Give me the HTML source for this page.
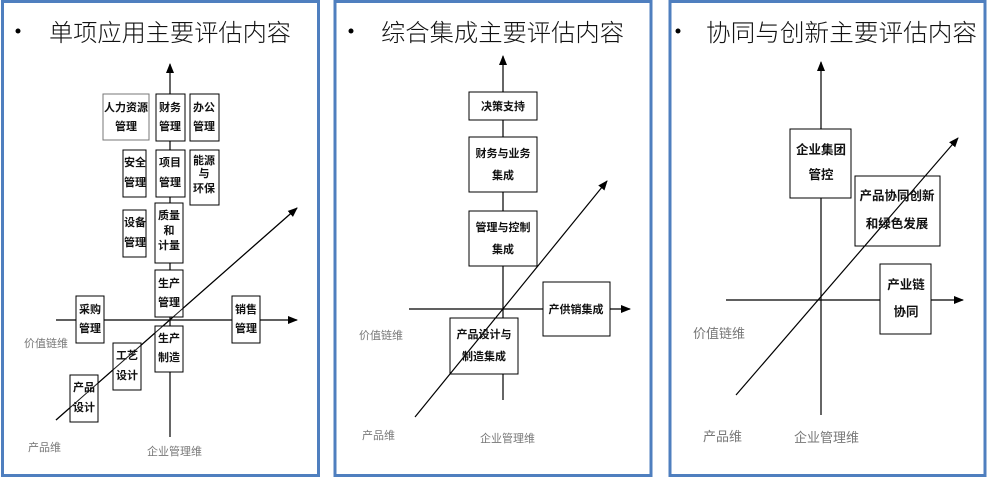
<!DOCTYPE html>
<html><head><meta charset="utf-8">
<style>
html,body{margin:0;padding:0;background:#fff;}
svg{display:block;}
.t{font-family:"Liberation Sans","Noto Sans CJK SC",sans-serif;font-size:24px;font-weight:300;fill:#111;}
.b{font-family:"Liberation Sans","Noto Sans CJK SC",sans-serif;font-size:11px;font-weight:bold;fill:#111;text-anchor:middle;}
.b2{font-family:"Liberation Sans","Noto Sans CJK SC",sans-serif;font-size:12.5px;font-weight:bold;fill:#111;text-anchor:middle;}
.g{font-family:"Liberation Sans","Noto Sans CJK SC",sans-serif;font-size:11px;fill:#777;}
.g2{font-family:"Liberation Sans","Noto Sans CJK SC",sans-serif;font-size:13px;fill:#777;}
</style></head><body>
<svg width="989" height="480" viewBox="0 0 989 480" xmlns="http://www.w3.org/2000/svg">
<defs>
<marker id="a" markerWidth="10" markerHeight="10" refX="9" refY="5" orient="auto" markerUnits="userSpaceOnUse">
<path d="M0,1 L10,5 L0,9 Z" fill="#000"/></marker>
</defs>
<g fill="none" stroke="#4f7fbf" stroke-width="3">
<rect x="2.5" y="1.5" width="316" height="474"/>
<rect x="335" y="1.5" width="316" height="474"/>
<rect x="670" y="1.5" width="315" height="474"/>
</g>
<!-- titles -->
<circle cx="18" cy="31" r="2.5" fill="#000"/>
<text class="t" x="49" y="41" textLength="242" lengthAdjust="spacingAndGlyphs">单项应用主要评估内容</text>
<circle cx="351" cy="31" r="2.5" fill="#000"/>
<text class="t" x="381" y="41" textLength="243" lengthAdjust="spacingAndGlyphs">综合集成主要评估内容</text>
<circle cx="678" cy="31" r="2.5" fill="#000"/>
<text class="t" x="706" y="41" textLength="271" lengthAdjust="spacingAndGlyphs">协同与创新主要评估内容</text>

<!-- panel 1 -->
<g stroke="#000" stroke-width="1.2" fill="none">
<line x1="170" y1="437" x2="170" y2="64" marker-end="url(#a)"/>
<line x1="56" y1="320" x2="297" y2="320" marker-end="url(#a)"/>
<line x1="56" y1="420" x2="297" y2="208" marker-end="url(#a)"/>
</g>
<g fill="#fff" stroke="#000" stroke-width="1">
<rect x="103" y="94" width="46" height="46" stroke="#777"/>
<rect x="156" y="94" width="29" height="47"/>
<rect x="190" y="94" width="29" height="47"/>
<rect x="123" y="150" width="23" height="47"/>
<rect x="156" y="150" width="29" height="47"/>
<rect x="190" y="150" width="29" height="55"/>
<rect x="123" y="210" width="23" height="47"/>
<rect x="155" y="203" width="28" height="60"/>
<rect x="155" y="270" width="28" height="47"/>
<rect x="76" y="296" width="28" height="47"/>
<rect x="232" y="296" width="28" height="47"/>
<rect x="155" y="326" width="28" height="46"/>
<rect x="113" y="343" width="28" height="47"/>
<rect x="70" y="375" width="28" height="47"/>
</g>
<line x1="56" y1="420" x2="297" y2="208" stroke="#000" stroke-width="1" opacity="0.9"/>
<g class="b">
<text class="b" x="126" y="111">人力资源</text><text class="b" x="126" y="130">管理</text>
<text class="b" x="170" y="111">财务</text><text class="b" x="170" y="130">管理</text>
<text class="b" x="204" y="111">办公</text><text class="b" x="204" y="130">管理</text>
<text class="b" x="135" y="166">安全</text><text class="b" x="135" y="186">管理</text>
<text class="b" x="170" y="166">项目</text><text class="b" x="170" y="186">管理</text>
<text class="b" x="204" y="164">能源</text><text class="b" x="204" y="177">与</text><text class="b" x="204" y="192">环保</text>
<text class="b" x="135" y="226">设备</text><text class="b" x="135" y="246">管理</text>
<text class="b" x="169" y="219">质量</text><text class="b" x="169" y="234">和</text><text class="b" x="169" y="249">计量</text>
<text class="b" x="169" y="287">生产</text><text class="b" x="169" y="306">管理</text>
<text class="b" x="90" y="313">采购</text><text class="b" x="90" y="332">管理</text>
<text class="b" x="246" y="313">销售</text><text class="b" x="246" y="332">管理</text>
<text class="b" x="169" y="342">生产</text><text class="b" x="169" y="361">制造</text>
<text class="b" x="127" y="359">工艺</text><text class="b" x="127" y="379">设计</text>
<text class="b" x="84" y="391">产品</text><text class="b" x="84" y="411">设计</text>
</g>
<text class="g" x="24" y="347">价值链维</text>
<text class="g" x="28" y="451">产品维</text>
<text class="g" x="147" y="455">企业管理维</text>

<!-- panel 2 -->
<g stroke="#000" stroke-width="1.2" fill="none">
<line x1="503" y1="400" x2="503" y2="56" marker-end="url(#a)"/>
<line x1="409" y1="309" x2="630" y2="309" marker-end="url(#a)"/>
</g>
<g fill="#fff" stroke="#000" stroke-width="1">
<rect x="469" y="92" width="68" height="28"/>
<rect x="469" y="137" width="68" height="55"/>
<rect x="469" y="211" width="68" height="55"/>
<rect x="543" y="282" width="67" height="54"/>
<rect x="450" y="318" width="68" height="56"/>
</g>
<line x1="415" y1="417" x2="607" y2="181" stroke="#000" stroke-width="1.2" marker-end="url(#a)"/>
<text class="b" x="503" y="110">决策支持</text>
<text class="b" x="503" y="157">财务与业务</text><text class="b" x="503" y="179">集成</text>
<text class="b" x="503" y="231">管理与控制</text><text class="b" x="503" y="253">集成</text>
<text class="b" x="576" y="313">产供销集成</text>
<text class="b" x="484" y="338">产品设计与</text><text class="b" x="484" y="360">制造集成</text>
<text class="g" x="359" y="339">价值链维</text>
<text class="g" x="362" y="439">产品维</text>
<text class="g" x="480" y="442">企业管理维</text>

<!-- panel 3 -->
<g stroke="#000" stroke-width="1.2" fill="none">
<line x1="821" y1="415" x2="821" y2="62" marker-end="url(#a)"/>
<line x1="726" y1="300" x2="963" y2="300" marker-end="url(#a)"/>
</g>
<g fill="#fff" stroke="#000" stroke-width="1">
<rect x="790" y="129" width="61" height="69"/>
<rect x="855" y="176" width="85" height="70"/>
<rect x="880" y="264" width="51" height="70"/>
</g>
<line x1="736" y1="395" x2="958" y2="138" stroke="#000" stroke-width="1.2" marker-end="url(#a)"/>
<text class="b2" x="821" y="154">企业集团</text><text class="b2" x="821" y="179">管控</text>
<text class="b2" x="897" y="200">产品协同创新</text><text class="b2" x="897" y="228">和绿色发展</text>
<text class="b2" x="906" y="289">产业链</text><text class="b2" x="906" y="316">协同</text>
<text class="g2" x="693" y="338">价值链维</text>
<text class="g2" x="703" y="441">产品维</text>
<text class="g2" x="794" y="442">企业管理维</text>
</svg>
</body></html>
